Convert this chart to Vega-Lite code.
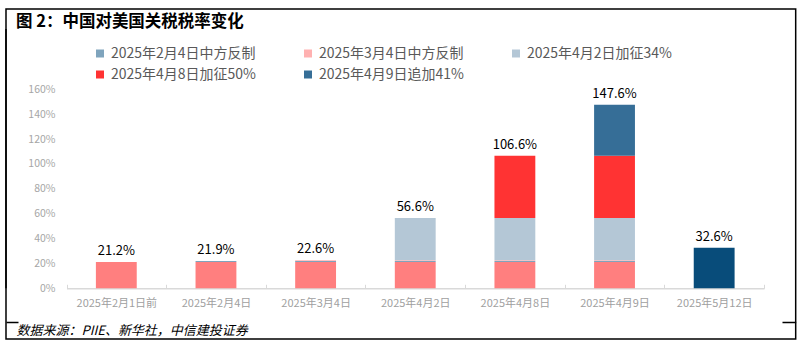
{
  "$schema": "https://vega.github.io/schema/vega-lite/v6.json",
  "autosize": "none",
  "padding": {"left": 6, "top": 9, "right": 7, "bottom": 15},
  "width": 789.7,
  "height": 330,
  "config": {
    "view": {"stroke": "#000000", "strokeWidth": 1.5},
    "font": "Noto Sans CJK SC",
    "axis": {"labelFont": "Noto Sans CJK SC", "titleFont": "Noto Sans CJK SC"},
    "legend": {"labelFont": "Noto Sans CJK SC"}
  },
  "title": {
    "text": "图 2：中国对美国关税税率变化",
    "anchor": "start",
    "frame": "group",
    "orient": "top",
    "baseline": "middle",
    "offset": -10,
    "dx": 10,
    "dy": 19,
    "fontSize": 16.5,
    "fontWeight": "bold",
    "color": "#000000",
    "font": "Noto Sans CJK SC"
  },
  "datasets": {
    "bars": [
      {"d": "2025年2月1日前", "s": "基础税率", "k": 0, "v": 0.212},
      {"d": "2025年2月4日", "s": "基础税率", "k": 0, "v": 0.212},
      {"d": "2025年2月4日", "s": "2025年2月4日中方反制", "k": 1, "v": 0.007},
      {"d": "2025年3月4日", "s": "基础税率", "k": 0, "v": 0.212},
      {"d": "2025年3月4日", "s": "2025年2月4日中方反制", "k": 1, "v": 0.007},
      {"d": "2025年3月4日", "s": "2025年3月4日中方反制", "k": 2, "v": 0.007},
      {"d": "2025年4月2日", "s": "基础税率", "k": 0, "v": 0.212},
      {"d": "2025年4月2日", "s": "2025年2月4日中方反制", "k": 1, "v": 0.007},
      {"d": "2025年4月2日", "s": "2025年3月4日中方反制", "k": 2, "v": 0.007},
      {"d": "2025年4月2日", "s": "2025年4月2日加征34%", "k": 3, "v": 0.34},
      {"d": "2025年4月8日", "s": "基础税率", "k": 0, "v": 0.212},
      {"d": "2025年4月8日", "s": "2025年2月4日中方反制", "k": 1, "v": 0.007},
      {"d": "2025年4月8日", "s": "2025年3月4日中方反制", "k": 2, "v": 0.007},
      {"d": "2025年4月8日", "s": "2025年4月2日加征34%", "k": 3, "v": 0.34},
      {"d": "2025年4月8日", "s": "2025年4月8日加征50%", "k": 4, "v": 0.5},
      {"d": "2025年4月9日", "s": "基础税率", "k": 0, "v": 0.212},
      {"d": "2025年4月9日", "s": "2025年2月4日中方反制", "k": 1, "v": 0.007},
      {"d": "2025年4月9日", "s": "2025年3月4日中方反制", "k": 2, "v": 0.007},
      {"d": "2025年4月9日", "s": "2025年4月2日加征34%", "k": 3, "v": 0.34},
      {"d": "2025年4月9日", "s": "2025年4月8日加征50%", "k": 4, "v": 0.5},
      {"d": "2025年4月9日", "s": "2025年4月9日追加41%", "k": 5, "v": 0.41}
    ],
    "may": [
      {"d": "2025年5月12日", "s": "2025年5月12日税率", "k": 0, "v": 0.326}
    ],
    "totals": [
      {"d": "2025年2月1日前", "total": 0.212},
      {"d": "2025年2月4日", "total": 0.219},
      {"d": "2025年3月4日", "total": 0.226},
      {"d": "2025年4月2日", "total": 0.566},
      {"d": "2025年4月8日", "total": 1.066},
      {"d": "2025年4月9日", "total": 1.476},
      {"d": "2025年5月12日", "total": 0.326}
    ]
  },
  "encoding": {
    "x": {
      "field": "d",
      "type": "nominal",
      "scale": {
        "domain": ["2025年2月1日前", "2025年2月4日", "2025年3月4日", "2025年4月2日", "2025年4月8日", "2025年4月9日", "2025年5月12日"],
        "range": [60.5, 758],
        "paddingInner": 0,
        "paddingOuter": 0
      },
      "axis": {
        "title": "数据来源：PIIE、新华社，中信建投证券",
        "offset": -50.7,
        "domainColor": "#D9D9D9",
        "domainWidth": 1.5,
        "tickBand": "extent",
        "tickColor": "#D9D9D9",
        "tickSize": -4,
        "tickWidth": 1,
        "labelColor": "#A0A0A0",
        "labelFontSize": 11,
        "labelPadding": 19.5,
        "labelBaseline": "middle",
        "labelAngle": 0,
        "titleAnchor": "start",
        "titleAlign": "left",
        "titleX": 10,
        "titleY": 42.7,
        "titleBaseline": "middle",
        "titleFontSize": 13,
        "titleFontStyle": "italic",
        "titleFontWeight": "normal",
        "titleColor": "#000000"
      }
    }
  },
  "layer": [
    {
      "data": {"name": "bars"},
      "mark": {"type": "bar", "width": {"band": 0.41}},
      "encoding": {
        "y": {
          "field": "v",
          "type": "quantitative",
          "stack": "zero",
          "scale": {"domain": [-0.2685, 2.0848], "range": [312.7, 20], "nice": false, "zero": false},
          "axis": {
            "title": null,
            "orient": "left",
            "offset": -51,
            "values": [0, 0.2, 0.4, 0.6, 0.8, 1.0, 1.2, 1.4, 1.6],
            "format": ".0%",
            "domain": false,
            "ticks": false,
            "grid": false,
            "labelPadding": 2,
            "labelColor": "#A6A6A6",
            "labelFontSize": 10.5
          }
        },
        "color": {
          "field": "s",
          "type": "nominal",
          "scale": {
            "domain": ["基础税率", "2025年2月4日中方反制", "2025年3月4日中方反制", "2025年4月2日加征34%", "2025年4月8日加征50%", "2025年4月9日追加41%", "2025年5月12日税率"],
            "range": ["#FF7F7F", "#7FA4BD", "#FFB1B1", "#B4C7D6", "#FF3333", "#366E97", "#084C7A"]
          },
          "legend": {
            "values": ["2025年2月4日中方反制", "2025年3月4日中方反制", "2025年4月2日加征34%", "2025年4月8日加征50%", "2025年4月9日追加41%"],
            "orient": "none",
            "direction": "horizontal",
            "legendX": 87,
            "legendY": 37.5,
            "columns": 3,
            "title": null,
            "symbolType": "square",
            "symbolSize": 64,
            "symbolStrokeWidth": 0,
            "symbolOpacity": 1,
            "labelFontSize": 14,
            "labelColor": "#595959",
            "labelOffset": 4,
            "labelLimit": 400,
            "columnPadding": 44,
            "rowPadding": 7,
            "gridAlign": "all",
            "padding": 0
          }
        },
        "order": {"field": "k", "type": "quantitative"}
      }
    },
    {
      "data": {"name": "may"},
      "mark": {"type": "bar", "width": {"band": 0.41}},
      "encoding": {
        "y": {
          "field": "v",
          "type": "quantitative",
          "axis": {
            "title": null,
            "orient": "right",
            "offset": -13.7,
            "values": [-0.2685],
            "labels": false,
            "domain": false,
            "grid": false,
            "ticks": true,
            "tickSize": 13.7,
            "tickColor": "#000000",
            "tickWidth": 1.5
          }
        },
        "color": {"field": "s", "type": "nominal"}
      }
    },
    {
      "data": {"name": "totals"},
      "mark": {"type": "text", "baseline": "bottom", "dy": -4, "fontSize": 13, "color": "#000000"},
      "encoding": {
        "y": {
          "field": "total",
          "type": "quantitative",
          "axis": {
            "title": null,
            "orient": "left",
            "offset": -12,
            "values": [-0.2685],
            "labels": false,
            "domain": false,
            "grid": false,
            "ticks": true,
            "tickSize": 12,
            "tickColor": "#000000",
            "tickWidth": 1.5
          }
        },
        "text": {"field": "total", "type": "quantitative", "format": ".1%"}
      }
    },
    {
      "data": {"values": [{}]},
      "mark": {"type": "rule", "color": "#000000", "strokeWidth": 1.5},
      "encoding": {
        "y": {"datum": 2.0848, "type": "quantitative", "axis": null}
      }
    }
  ],
  "resolve": {"axis": {"y": "independent"}}
}
